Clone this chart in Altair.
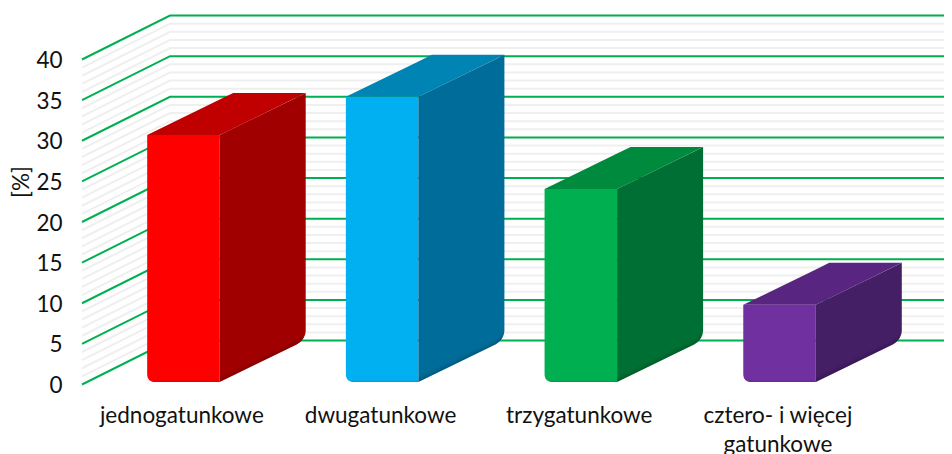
import json
import math
import altair as alt
import pandas as pd

CATEGORIES = ["jednogatunkowe", "dwugatunkowe", "trzygatunkowe", ["cztero- i więcej", "gatunkowe"]]
VALUES = [30.4, 35.1, 23.75, 9.5]
FRONT = ["#FF0000", "#00B0F0", "#00B050", "#7030A0"]
TOP = ["#C00000", "#0084B4", "#008A3E", "#582681"]
SIDE = ["#A00000", "#006C99", "#006F33", "#451F66"]
Y_TICKS = [0, 5, 10, 15, 20, 25, 30, 35, 40]
MINOR_LEVELS = [v for v in range(1, 41) if v % 5 != 0]

PX_X = 198.7      # px per category
PX_Y = 8.125      # px per %
PLOT_W, PLOT_H = 862, 369
XMAX = PLOT_W / PX_X
YMAX = PLOT_H / PX_Y
WALL_DX, WALL_DY = 88 / PX_X, 44 / PX_Y
BAR_L, BAR_W = 0.328, 0.365
BAR_DX, BAR_DY = 86 / PX_X, 42 / PX_Y
BASE = 2.5 / PX_Y
FONT = "Lato"
TEXT = "#111111"
FS = 22.5

# grid ------------------------------------------------------------------
grid = []
for kind, levels in (("minor", MINOR_LEVELS), ("major", Y_TICKS)):
    for lv in levels:
        for o, (gx, gy) in enumerate([(0, lv), (WALL_DX, lv + WALL_DY), (XMAX, lv + WALL_DY)]):
            grid.append(dict(kind=kind, level=lv, o=o, x=gx, y=gy))
grid = pd.DataFrame(grid)


def rise(t_px, r_px):
    """height (px) by which a rounded corner lifts the edge, t_px from the end."""
    return r_px - math.sqrt(max(r_px ** 2 - (r_px - t_px) ** 2, 0))


T_STEPS = [0, 0.5, 1, 2, 3, 4.5, 6, 8]

shapes = []


def poly(fill, pts, opacity=1.0):
    shapes.append((fill, opacity, pd.DataFrame(
        [dict(x=px, ytop=py, ybot=py2) for (px, py, py2) in pts])))


def side_bottom(x1, x, r=9):
    """bottom edge of the side face at x, with a rounded far corner."""
    yb = BASE + (x - x1) / BAR_DX * BAR_DY
    t = (x1 + BAR_DX - x) * PX_X
    return yb + (rise(t, r) / PX_Y if t < r else 0)


for i, val in enumerate(VALUES):
    v = val + BASE          # the boxes stand slightly above the front edge of the floor
    x0 = i + BAR_L
    x1 = x0 + BAR_W
    # front
    r = 7
    xs = [x0 + t / PX_X for t in T_STEPS[:-1]] + [x0 + r / PX_X, x1]
    pts = []
    for x in xs:
        t = (x - x0) * PX_X
        pts.append((x, v, BASE + (rise(t, r) / PX_Y if t < r else 0)))
    poly(FRONT[i], pts)
    # top
    w_frac = BAR_W / BAR_DX
    poly(TOP[i], [
        (x0, v, v),
        (x1, v + BAR_DY * w_frac, v),
        (x0 + BAR_DX, v + BAR_DY, v + BAR_DY * (1 - w_frac)),
        (x1 + BAR_DX, v + BAR_DY, v + BAR_DY),
    ])
    # side
    xs = [x1, x1 + BAR_DX - 9 / PX_X] + [x1 + BAR_DX - t / PX_X for t in reversed(T_STEPS[:-1])]
    pts = [(x, v + (x - x1) / BAR_DX * BAR_DY, side_bottom(x1, x)) for x in xs]
    poly(SIDE[i], pts)
    # darkening along the bottom edge of the side face
    for h in [5, 3, 1.5]:
        poly("#000000",
             [(x, side_bottom(x1, x) + h / PX_Y, side_bottom(x1, x)) for x in xs[:-3]],
             opacity=0.05)
    # darkening along the bottom edge of the front face
    poly("#000000",
         [(x0 + 6 / PX_X, BASE + 1.5 / PX_Y, BASE), (x1, BASE + 1.5 / PX_Y, BASE)],
         opacity=0.08)

x_scale = alt.Scale(domain=[0, XMAX], nice=False, zero=False)
y_scale = alt.Scale(domain=[0, YMAX], nice=False, zero=False)

label_expr = f"{json.dumps(CATEGORIES, ensure_ascii=False)}[floor(datum.value)]"

x_axis = alt.Axis(values=[0.5, 1.5, 2.5, 3.5], labelExpr=label_expr, domain=False, ticks=False,
                  grid=False, title=None, labelFontSize=FS, labelFont=FONT, labelColor=TEXT,
                  labelPadding=20, labelOverlap=False, labelBound=False, labelFlush=False,
                  labelAngle=0, labelLineHeight=29, labelBaseline="top", labelLimit=400)
y_axis = alt.Axis(values=Y_TICKS, domain=False, ticks=False, grid=False, title="[%]",
                  titleFont=FONT, titleFontSize=FS, titleFontWeight="normal", titleColor=TEXT,
                  titleX=-49, titleY=166, labelFontSize=FS, labelFont=FONT, labelColor=TEXT,
                  labelPadding=20, labelOffset=1)


def grid_layer(kind, color, width):
    return alt.Chart(grid[grid.kind == kind]).mark_line(color=color, strokeWidth=width).encode(
        x=alt.X("x:Q", scale=x_scale, axis=x_axis),
        y=alt.Y("y:Q", scale=y_scale, axis=y_axis),
        detail="level:N",
        order="o:Q",
    )


def face_layer(fill, opacity, df):
    return alt.Chart(df).mark_area(color=fill, opacity=opacity, orient="vertical", clip=False).encode(
        x=alt.X("x:Q", scale=x_scale, axis=x_axis),
        y=alt.Y("ytop:Q", scale=y_scale, axis=y_axis),
        y2=alt.Y2("ybot:Q"),
    )


chart = (
    alt.layer(grid_layer("minor", "#EFEFEF", 2), grid_layer("major", "#00B050", 2),
              *[face_layer(*s) for s in shapes])
    .properties(
        width=PLOT_W, height=PLOT_H,
        padding={"left": 74, "top": 7.5, "right": 0, "bottom": 69.5},
        autosize=alt.AutoSizeParams(type="none"),
        background="#FFFFFF",
    )
    .configure_view(stroke=None)
)

chart.save("out.html", embed_options={"renderer": "svg", "actions": False})
